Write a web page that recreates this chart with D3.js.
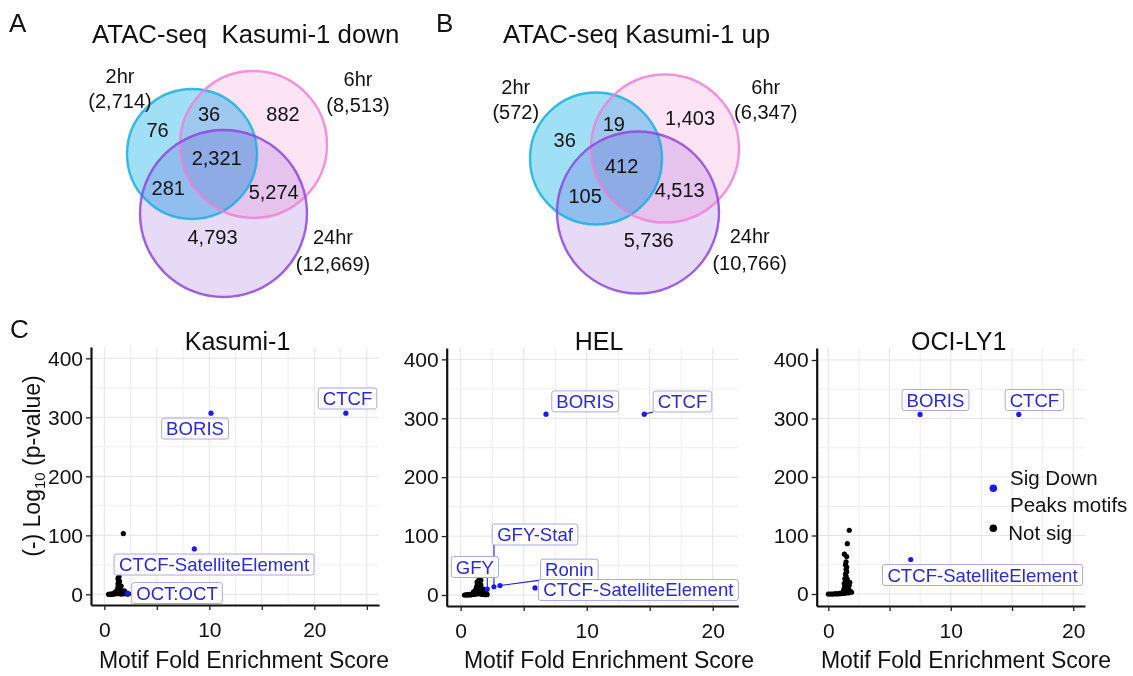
<!DOCTYPE html>
<html><head><meta charset="utf-8">
<script src="https://cdn.jsdelivr.net/npm/d3@7"></script>
<style>
body{margin:0;background:#fff;}
svg{display:block;font-family:"Liberation Sans",Arial,Helvetica,sans-serif;}
</style></head><body>
<svg id="chart" width="1133" height="676"></svg>
<script>
// ---------------- DATA ----------------
const vennSets = ["2hr", "6hr", "24hr"];
const downTotals = [2714, 8513, 12669];
const upTotals = [572, 6347, 10766];
const regionKeys = ["2hr", "2hr&6hr", "6hr", "2hr&6hr&24hr", "2hr&24hr", "6hr&24hr", "24hr"];
const downCounts = [76, 36, 882, 2321, 281, 5274, 4793];
const upCounts = [36, 19, 1403, 412, 105, 4513, 5736];

const panelNames = ["Kasumi-1", "HEL", "OCI-LY1"];
const xTickLabels = [0, 10, 20];
const yTickLabels = [0, 100, 200, 300, 400];

const kasumiSigNames = ["CTCF", "BORIS", "CTCF-SatelliteElement", "OCT:OCT"];
const kasumiSigFE = [23.0, 10.16, 8.57, 2.2];
const kasumiSigP = [307, 307, 77, 2];
const kasumiNotSig = [
  [0.4,0],[0.5,0],[0.6,0.5],[0.7,0],[0.8,1],[0.9,0.5],[1.0,1],[1.1,2],[1.2,1],[1.3,3],
  [1.4,2],[1.5,1],[1.6,0.5],[1.7,2],[1.8,1],[1.9,3],[2.0,1],[2.1,2],[2.2,0.5],[2.3,1],
  [1.2,5],[1.25,8],[1.3,12],[1.35,15],[1.3,18],[1.4,20],[1.35,24],[1.3,27],[1.4,30],
  [1.5,10],[1.55,6],[1.6,14],[1.45,22],[1.5,4],[1.7,5],[1.8,3],[1.9,6],[1.1,4],[1.0,3],
  [1.81,103]
];

const helSigNames = ["BORIS", "CTCF", "GFY", "GFY-Staf", "Ronin", "CTCF-SatelliteElement"];
const helSigFE = [6.77, 14.57, 2.11, 2.64, 3.12, 5.9];
const helSigP = [307, 307, 10, 14, 16, 12];
const helNotSig = [
  [0.3,0],[0.4,0],[0.5,0.5],[0.6,0],[0.7,1],[0.8,0],[0.9,1],[1.0,2],[1.1,1],[1.2,3],
  [1.3,2],[1.4,4],[1.5,2],[1.6,3],[1.7,1],[1.8,2],[1.9,1],[2.0,0.5],[2.1,1],
  [1.1,6],[1.2,9],[1.25,13],[1.3,16],[1.35,19],[1.3,22],[1.4,24],[1.5,27],[1.6,25],
  [1.45,12],[1.55,8],[1.7,6],[1.8,10],[1.9,7],[2.0,5],[1.6,17],[1.0,5]
];

const ociSigNames = ["BORIS", "CTCF", "CTCF-SatelliteElement"];
const ociSigFE = [7.49, 15.55, 6.73];
const ociSigP = [307, 307, 59];
const ociNotSig = [
  [0,0],[0.15,0],[0.3,0],[0.45,0],[0.6,0.5],[0.75,0],[0.9,1],[1.0,0.5],[1.1,1],[1.2,2],
  [1.3,1],[1.4,3],[1.5,2],[1.6,4],[1.7,2],[1.8,5],[1.9,3],
  [1.25,6],[1.3,10],[1.35,14],[1.3,18],[1.4,22],[1.35,26],[1.45,30],[1.4,34],[1.5,38],
  [1.45,42],[1.5,46],[1.4,50],[1.6,12],[1.7,15],[1.75,20],[1.55,25],[1.65,8],[1.2,4],
  [1.5,64],[1.31,68],[1.55,86],[1.71,109],[1.45,55],[1.6,18]
];

const legendLabels = [["Sig Down", "Peaks motifs"], ["Not sig"]];

// ---------------- LAYOUT ----------------
const vennFill = ["#9fe0f7", "#fde4f5", "#e7daf7"];
const vennStroke = ["#16b0e4", "#f27fd8", "#8e45e0"];
const vennLayouts = [
  { letter: "A", letterPos: [9, 32], title: "ATAC-seq\u00a0\u00a0Kasumi-1 down", titlePos: [92, 43],
    circles: [[192,154,65],[253.5,144.5,73.5],[223.5,213.5,83.5]],
    setPos: [[120,82.7,107.5],[358,86,111.5],[333,244.3,270.5]],
    regionPos: [[157.5,137.3],[209,120.7],[283,120.7],[216.7,165],[168.3,195],[273.7,199],[212.5,244.3]],
    counts: downCounts, totals: downTotals },
  { letter: "B", letterPos: [436, 32], title: "ATAC-seq Kasumi-1 up", titlePos: [503, 43],
    circles: [[596,158.5,66],[665,148.5,74],[638,212.5,81]],
    setPos: [[515.8,94,118.5],[765.8,94,118.5],[749.7,243.3,269.5]],
    regionPos: [[564.7,147.3],[613.8,130.7],[690,125],[621.7,172.7],[585.2,202.7],[679.7,196.7],[648.7,246.7]],
    counts: upCounts, totals: upTotals }
];

const panelLayouts = [
  { left: 91, right: 379, top: 347, bottom: 605, xDomain: [-1.27, 26.16], yDomain: [-18.1, 419.2], xMax: 25,
    titleX: 237.5, axisTitleX: 244,
    names: kasumiSigNames, fe: kasumiSigFE, p: kasumiSigP, ns: kasumiNotSig,
    labelPos: [[23.16,331.9],[8.64,281],[10.45,50.5],[6.92,2.2]] },
  { left: 446.7, right: 738.3, top: 348, bottom: 606, xDomain: [-1.11, 22.03], yDomain: [-18.7, 419.3], xMax: 20,
    titleX: 599, axisTitleX: 609,
    names: helSigNames, fe: helSigFE, p: helSigP, ns: helNotSig,
    labelPos: [[9.88,328.7],[17.6,328.5],[1.13,47.5],[5.9,102.7],[8.62,43],[14.1,8.5]] },
  { left: 816.7, right: 1085, top: 348, bottom: 606, xDomain: [-0.95, 20.96], yDomain: [-20.5, 420.5], xMax: 20,
    titleX: 958.7, axisTitleX: 966,
    names: ociSigNames, fe: ociSigFE, p: ociSigP, ns: ociNotSig,
    labelPos: [[8.75,331.6],[16.83,331.6],[12.59,32.5]] }
];

const sigColor = "#1a1aee";
const labelTextColor = "#2a2ad8";
const labelBorder = "#a9a9ee";

// ---------------- DRAW ----------------
const svg = d3.select("#chart");
const fmt = d3.format(",");

// Venn diagrams
vennLayouts.forEach(L => {
  const g = svg.append("g");
  g.append("text").attr("x", L.letterPos[0]).attr("y", L.letterPos[1])
    .attr("font-size", 26).attr("fill", "#111").text(L.letter);
  g.append("text").attr("x", L.titlePos[0]).attr("y", L.titlePos[1])
    .attr("font-size", 25.8).attr("fill", "#111").text(L.title);
  const fills = g.append("g").style("isolation", "isolate");
  fills.selectAll("circle").data(L.circles).join("circle")
    .attr("cx", d => d[0]).attr("cy", d => d[1]).attr("r", d => d[2])
    .attr("fill", (d, i) => vennFill[i])
    .style("mix-blend-mode", "multiply");
  g.append("g").selectAll("circle").data(L.circles).join("circle")
    .attr("cx", d => d[0]).attr("cy", d => d[1]).attr("r", d => d[2])
    .attr("fill", "none").attr("stroke", (d, i) => vennStroke[i])
    .attr("stroke-width", 2.4).attr("stroke-opacity", 0.85);
  vennSets.forEach((s, i) => {
    const pos = L.setPos[i];
    g.append("text").attr("x", pos[0]).attr("y", pos[1]).attr("text-anchor", "middle")
      .attr("font-size", 20).attr("fill", "#111").text(s);
    g.append("text").attr("x", pos[0]).attr("y", pos[2]).attr("text-anchor", "middle")
      .attr("font-size", 20).attr("fill", "#111").text("(" + fmt(L.totals[i]) + ")");
  });
  regionKeys.forEach((k, i) => {
    const pos = L.regionPos[i];
    g.append("text").attr("x", pos[0]).attr("y", pos[1]).attr("text-anchor", "middle")
      .attr("font-size", 20).attr("fill", "#111").text(fmt(L.counts[i]));
  });
});

// Panel C
svg.append("text").attr("x", 10).attr("y", 338).attr("font-size", 26).attr("fill", "#111").text("C");

panelLayouts.forEach((P, pi) => {
  const g = svg.append("g");
  const x = d3.scaleLinear().domain(P.xDomain).range([P.left, P.right]);
  const y = d3.scaleLinear().domain(P.yDomain).range([P.bottom, P.top]);

  const gx = d3.range(0, P.xDomain[1], 2.5);
  const gy = d3.range(0, P.yDomain[1], 50);
  g.append("g").selectAll("line").data(gx).join("line")
    .attr("x1", d => x(d)).attr("x2", d => x(d)).attr("y1", P.top).attr("y2", P.bottom)
    .attr("stroke", d => d % 5 === 0 ? "#e4e4e4" : "#eeeeee").attr("stroke-width", 1);
  g.append("g").selectAll("line").data(gy).join("line")
    .attr("y1", d => y(d)).attr("y2", d => y(d)).attr("x1", P.left).attr("x2", P.right)
    .attr("stroke", d => d % 100 === 0 ? "#e4e4e4" : "#eeeeee").attr("stroke-width", 1);

  const yAxis = g.append("g").attr("transform", `translate(${P.left},0)`)
    .call(d3.axisLeft(y).tickValues(yTickLabels).tickSize(5).tickSizeOuter(0).tickPadding(3));
  const xAxis = g.append("g").attr("transform", `translate(0,${P.bottom})`)
    .call(d3.axisBottom(x).tickValues(d3.range(0, P.xMax + 0.01, 5))
      .tickFormat(d => xTickLabels.includes(d) ? d : "").tickSize(5).tickSizeOuter(0).tickPadding(12));
  [yAxis, xAxis].forEach(a => {
    a.select(".domain").attr("stroke", "#111").attr("stroke-width", 2.2);
    a.selectAll(".tick line").attr("stroke", "#222").attr("stroke-width", 1.3);
    a.selectAll(".tick text").attr("font-size", 21).attr("fill", "#111")
      .attr("font-family", "Liberation Sans, Arial, sans-serif");
  });

  g.append("text").attr("x", P.titleX).attr("y", 350).attr("text-anchor", "middle")
    .attr("font-size", 25).attr("fill", "#111").text(panelNames[pi]);
  g.append("text").attr("x", P.axisTitleX).attr("y", 668).attr("text-anchor", "middle")
    .attr("font-size", 23).attr("fill", "#111").text("Motif Fold Enrichment Score");

  g.append("g").selectAll("circle").data(P.ns).join("circle")
    .attr("cx", d => x(d[0])).attr("cy", d => y(d[1])).attr("r", 2.6).attr("fill", "#000");

  const sig = P.names.map((n, i) => ({ name: n, fe: P.fe[i], p: P.p[i], lx: P.labelPos[i][0], ly: P.labelPos[i][1] }));
  const segG = g.append("g");
  const ptG = g.append("g");
  const lblG = g.append("g");
  sig.forEach(d => {
    const px = x(d.fe), py = y(d.p);
    const cx = x(d.lx), cy = y(d.ly);
    const t = lblG.append("text").attr("x", cx).attr("y", cy).attr("dy", "0.35em")
      .attr("text-anchor", "middle").attr("font-size", 18.6).attr("fill", labelTextColor).text(d.name);
    const bb = t.node().getBBox();
    const w = bb.width + 9, h = 21;
    lblG.insert("rect", "text").attr("x", cx - w / 2).attr("y", cy - h / 2).attr("width", w).attr("height", h)
      .attr("rx", 2.5).attr("fill", "#fff").attr("fill-opacity", 0.92)
      .attr("stroke", labelBorder).attr("stroke-width", 1);
    const nx = Math.max(cx - w / 2, Math.min(px, cx + w / 2));
    const ny = Math.max(cy - h / 2, Math.min(py, cy + h / 2));
    const dist = Math.hypot(nx - px, ny - py);
    if (dist > 8) {
      segG.append("line").attr("x1", px).attr("y1", py).attr("x2", nx).attr("y2", ny)
        .attr("stroke", sigColor).attr("stroke-width", 1.1);
    }
    ptG.append("circle").attr("cx", px).attr("cy", py).attr("r", 2.6).attr("fill", sigColor);
  });
});

const yt = svg.append("text").attr("transform", "translate(40,466) rotate(-90)")
  .attr("text-anchor", "middle").attr("font-size", 23).attr("fill", "#111");
yt.append("tspan").text("(-) Log");
yt.append("tspan").attr("font-size", 15).attr("dy", 5).text("10");
yt.append("tspan").attr("dy", -5).text(" (p-value)");

const lg = svg.append("g");
lg.append("circle").attr("cx", 993.3).attr("cy", 488.3).attr("r", 3.8).attr("fill", sigColor);
lg.append("circle").attr("cx", 993.3).attr("cy", 528.3).attr("r", 3.8).attr("fill", "#000");
lg.append("text").attr("x", 1010).attr("y", 485).attr("font-size", 20.5).attr("fill", "#111").text(legendLabels[0][0]);
lg.append("text").attr("x", 1010).attr("y", 511.7).attr("font-size", 20.5).attr("fill", "#111").text(legendLabels[0][1]);
lg.append("text").attr("x", 1008.3).attr("y", 540).attr("font-size", 20.5).attr("fill", "#111").text(legendLabels[1][0]);
</script>
</body></html>
